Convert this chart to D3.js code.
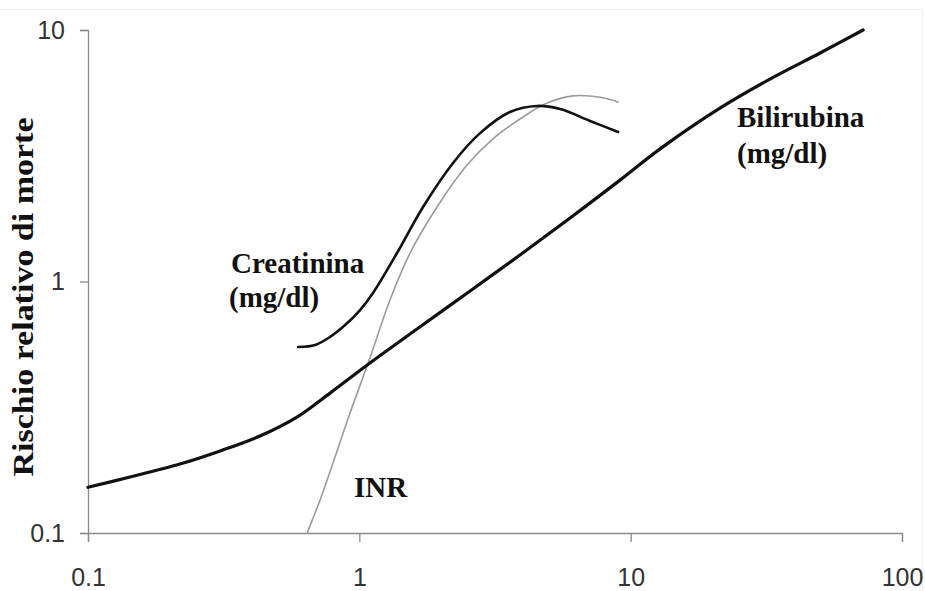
<!DOCTYPE html>
<html>
<head>
<meta charset="utf-8">
<script src="https://cdn.jsdelivr.net/npm/d3@7"></script>
<style>
  body { margin: 0; background: #fff; }
  svg { display: block; }
</style>
</head>
<body>
<svg id="chart" width="925" height="591"></svg>
<script>
// Axis ticks (log scales)
const xTicks = [0.1, 1, 10, 100];
const xTickLabels = ["0.1", "1", "10", "100"];
const yTicks = [0.1, 1, 10];
const yTickLabels = ["0.1", "1", "10"];

// Bilirubina (mg/dl) vs relative risk
const bilirubinaX = [0.1, 0.143, 0.218, 0.307, 0.43, 0.589, 0.78, 1.094, 1.67, 2.56, 3.91, 5.98, 9.14, 12.8, 21.4, 32.6, 49.9, 71.9];
const bilirubinaY = [0.152, 0.167, 0.188, 0.212, 0.243, 0.289, 0.360, 0.474, 0.659, 0.917, 1.275, 1.789, 2.53, 3.36, 4.90, 6.38, 8.10, 10.0];

// Creatinina (mg/dl) vs relative risk
const creatininaX = [0.595, 0.687, 0.780, 0.886, 1.006, 1.123, 1.377, 1.717, 2.215, 2.786, 3.59, 4.52, 5.50, 7.08, 8.99];
const creatininaY = [0.549, 0.559, 0.602, 0.671, 0.770, 0.900, 1.298, 1.978, 2.96, 3.89, 4.72, 4.99, 4.85, 4.35, 3.93];

// INR vs relative risk
const inrX = [0.642, 0.716, 0.800, 0.924, 1.094, 1.297, 1.538, 1.934, 2.494, 3.16, 4.01, 4.83, 6.13, 7.71, 8.99];
const inrY = [0.100, 0.135, 0.190, 0.300, 0.496, 0.844, 1.298, 1.978, 2.904, 3.75, 4.51, 5.08, 5.47, 5.40, 5.17];

const W = 925, H = 591;
const margin = { top: 30, right: 23, bottom: 58, left: 88 };

const svg = d3.select("#chart");

// faint frame around the figure
svg.append("rect")
  .attr("x", -1).attr("y", 9.5)
  .attr("width", 923.5).attr("height", 600)
  .attr("fill", "none").attr("stroke", "#efefef").attr("stroke-width", 1);

const x = d3.scaleLog().domain([0.1, 100]).range([margin.left, W - margin.right]);
const y = d3.scaleLog().domain([0.1, 10]).range([H - margin.bottom, margin.top]);

const axisColor = "#8a8a8a";

const gx = svg.append("g")
  .attr("transform", `translate(0,${H - margin.bottom})`)
  .call(d3.axisBottom(x).tickValues(xTicks)
    .tickFormat((d, i) => xTickLabels[i])
    .tickSize(9).tickPadding(26));

const gy = svg.append("g")
  .attr("transform", `translate(${margin.left},0)`)
  .call(d3.axisLeft(y).tickValues(yTicks)
    .tickFormat((d, i) => yTickLabels[i])
    .tickSize(8).tickPadding(15));

[gx, gy].forEach(g => {
  g.select(".domain").attr("stroke", axisColor).attr("stroke-width", 1.3);
  g.selectAll(".tick line").attr("stroke", axisColor).attr("stroke-width", 1.3);
  g.selectAll(".tick text")
    .attr("fill", "#333")
    .style("font-family", "'Liberation Sans', Arial, sans-serif")
    .style("font-size", "25px");
});

const line = d3.line()
  .x(d => x(d[0]))
  .y(d => y(d[1]))
  .curve(d3.curveCatmullRom.alpha(0.5));

const series = [
  { xs: inrX, ys: inrY, color: "#9a9a9a", width: 1.6 },
  { xs: creatininaX, ys: creatininaY, color: "#111", width: 2.6 },
  { xs: bilirubinaX, ys: bilirubinaY, color: "#111", width: 3.2 }
];

svg.append("g").selectAll("path")
  .data(series)
  .join("path")
  .attr("d", s => line(s.xs.map((v, i) => [v, s.ys[i]])))
  .attr("fill", "none")
  .attr("stroke", s => s.color)
  .attr("stroke-width", s => s.width)
  .attr("stroke-linejoin", "round")
  .attr("stroke-linecap", "round");

// Curve labels
const serif = "'Liberation Serif', 'Times New Roman', serif";
const labels = [
  { text: "Creatinina", x: 231, y: 273 },
  { text: "(mg/dl)", x: 229, y: 307 },
  { text: "Bilirubina", x: 737, y: 127 },
  { text: "(mg/dl)", x: 737, y: 163 },
  { text: "INR", x: 354, y: 497 }
];
svg.append("g").selectAll("text")
  .data(labels)
  .join("text")
  .attr("x", d => d.x).attr("y", d => d.y)
  .attr("fill", "#111")
  .style("font-family", serif)
  .style("font-weight", "bold")
  .style("font-size", "29px")
  .text(d => d.text);

// Y axis title
svg.append("text")
  .attr("transform", "translate(33,297) rotate(-90)")
  .attr("text-anchor", "middle")
  .attr("fill", "#111")
  .attr("textLength", 359)
  .attr("lengthAdjust", "spacingAndGlyphs")
  .style("font-family", serif)
  .style("font-weight", "bold")
  .style("font-size", "30px")
  .text("Rischio relativo di morte");
</script>
</body>
</html>
